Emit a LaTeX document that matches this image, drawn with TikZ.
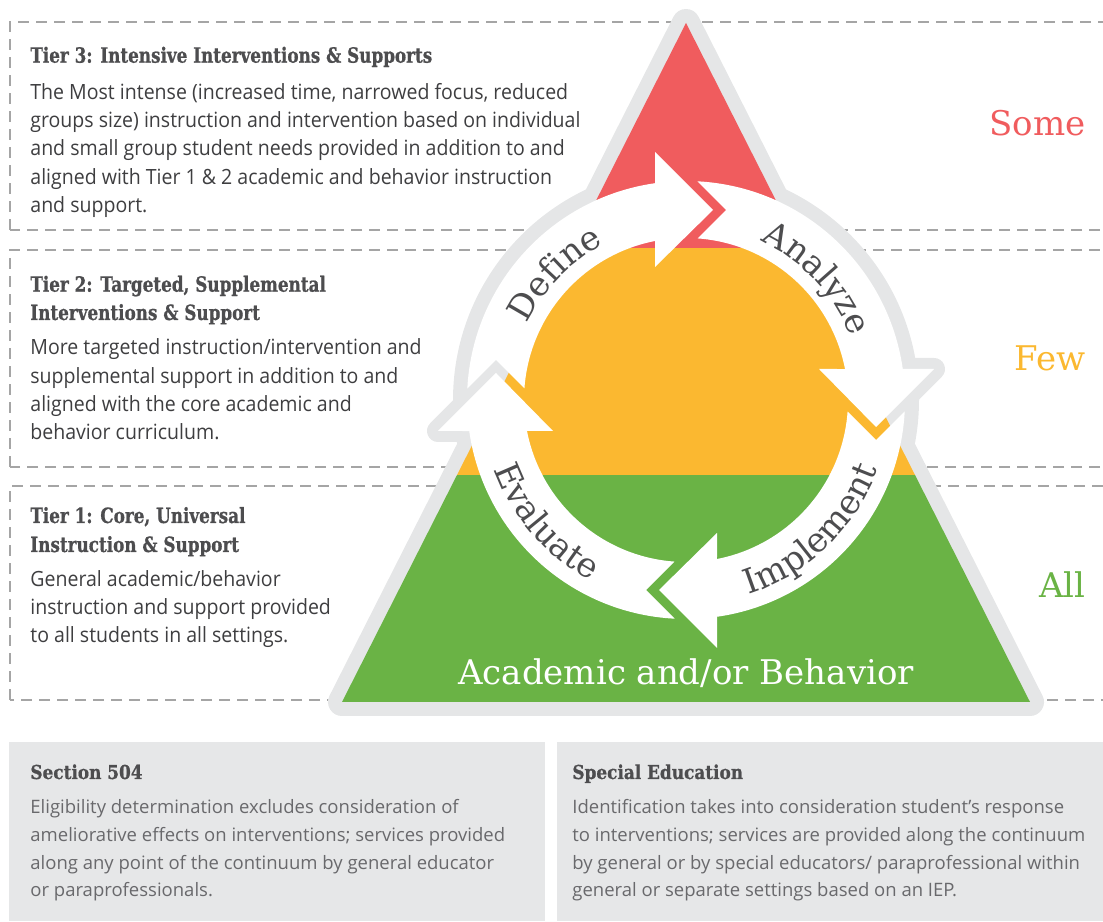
\documentclass[tikz,border=0pt]{standalone}
\usepackage{fontspec}
\setmainfont{Open Sans}
\newfontfamily\bodyfont[FakeStretch=0.93]{Open Sans}
\newfontfamily\smallbody{Open Sans}
\newfontfamily\slab{DejaVu Serif}
\newfontfamily\slabtitle[FakeStretch=0.8, FakeBold=0.8]{DejaVu Serif}
\newfontfamily\slabsmall[FakeStretch=0.88, FakeBold=0.8]{DejaVu Serif}
\usetikzlibrary{decorations.text}
\definecolor{tred}{RGB}{240,92,94}
\definecolor{torange}{RGB}{251,184,48}
\definecolor{tgreen}{RGB}{106,179,69}
\definecolor{edgegrey}{RGB}{229,230,231}
\definecolor{boxgrey}{RGB}{230,231,232}
\definecolor{titlec}{RGB}{77,77,79}
\definecolor{bodyc}{RGB}{62,62,64}
\definecolor{lightc}{RGB}{105,105,108}
\definecolor{dashc}{RGB}{165,165,165}
\definecolor{labc}{RGB}{77,77,79}
\tikzset{
  dashbox/.style={draw=dashc, line width=0.6pt, dash pattern=on 5.5pt off 3.5pt},
  ttl/.style={anchor=base west, inner sep=0pt, text=titlec, font=\slabtitle\bfseries\fontsize{10.5}{12}\selectfont},
  bod/.style={anchor=base west, inner sep=0pt, text=bodyc, font=\bodyfont\fontsize{10.5}{12}\selectfont},
  bttl/.style={anchor=base west, inner sep=0pt, text=titlec, font=\slabsmall\bfseries\fontsize{9.6}{12}\selectfont},
  bbod/.style={anchor=base west, inner sep=0pt, text=lightc, font=\smallbody\fontsize{9.25}{11}\selectfont},
  side/.style={anchor=base east, inner sep=0pt, font=\slab\fontsize{17}{20}\selectfont},
  greyedge/.style={fill=edgegrey, draw=edgegrey, line join=round},
  lab/.style={decorate, decoration={text along path, text align=center, text={|\slab\fontsize{17}{20}\selectfont\color{labc}|#1}}}
}
\begin{document}
\begin{tikzpicture}[x=0.5pt, y=0.5pt]
\useasboundingbox (0,0) rectangle (1103,921);
% dashed tier boxes
\draw[dashbox] (10,691) rectangle (1130,899);
\draw[dashbox] (10,454) rectangle (1130,671);
\draw[dashbox] (10,221) rectangle (1130,435);
% grey outline of the pyramid, ring and heads
\filldraw[greyedge, line width=14pt] (342,219) -- (686,898) -- (1030,219) -- cycle;
\filldraw[greyedge, line width=14pt] (686,521) circle[radius=219];
\foreach \r in {0,-90,-180,-270} {
  \begin{scope}[shift={(686,521)}, rotate=\r]
    \filldraw[greyedge, line width=11pt] (-31,248) -- (27,190) -- (-31,133) -- cycle;
  \end{scope}
}
% coloured bands
\begin{scope}
  \clip (342,219) -- (686,898) -- (1030,219) -- cycle;
  \fill[tred] (300,673) rectangle (1100,910);
  \fill[torange] (300,446) rectangle (1100,673);
  \fill[tgreen] (300,200) rectangle (1100,446);
\end{scope}
% cycle arrows
\foreach \r in {0,-90,-180,-270} {
  \begin{scope}[shift={(686,521)}, rotate=\r]
    \fill[white] (177.04:219) arc[start angle=177.04, end angle=98.14, radius=219]
      -- (-31,248) -- (27,190) -- (-31,133) -- (101.03:162)
      arc[start angle=101.03, end angle=175.9, radius=162] -- (-190,40) -- cycle;
  \end{scope}
}
\begin{scope}[shift={(686,521)}]
  \path[lab=Define] (176:176) arc[start angle=176, end angle=96, radius=176];
  \path[lab=Analyze] (83:176) arc[start angle=83, end angle=3, radius=176];
  \path[lab=Implement] (-86:204) arc[start angle=-86, end angle=-6, radius=204];
  \path[lab=Evaluate] (181:204) arc[start angle=181, end angle=261, radius=204];
\end{scope}
\node[anchor=base, inner sep=0pt, text=white, font=\slab\fontsize{17}{20}\selectfont] (base) at (686,236) {Academic and/or Behavior};
% side labels
\node[side, text=tred] (some) at (1086,785) {Some};
\node[side, text=torange] (few) at (1086,550) {Few};
\node[side, text=tgreen] (all) at (1086,323) {All};
% tier 3
\node[ttl] (t3t) at (30,858.3) {Tier 3: Intensive Interventions \& Supports};
\node[bod] (t3a) at (30,821.7) {The Most intense (increased time, narrowed focus, reduced};
\node[bod] (t3b) at (30,793.3) {groups size) instruction and intervention based on individual};
\node[bod] (t3c) at (30,765) {and small group student needs provided in addition to and};
\node[bod] (t3d) at (30,736.6) {aligned with Tier 1 \& 2 academic and behavior instruction};
\node[bod] (t3e) at (30,708.2) {and support.};
% tier 2
\node[ttl] (t2t) at (30,629.3) {Tier 2: Targeted, Supplemental};
\node[ttl] (t2u) at (30,601) {Interventions \& Support};
\node[bod] (t2a) at (30,566) {More targeted instruction/intervention and};
\node[bod] (t2b) at (30,537.7) {supplemental support in addition to and};
\node[bod] (t2c) at (30,509.3) {aligned with the core academic and};
\node[bod] (t2d) at (30,481) {behavior curriculum.};
% tier 1
\node[ttl] (t1t) at (30,398) {Tier 1: Core, Universal};
\node[ttl] (t1u) at (30,369) {Instruction \& Support};
\node[bod] (t1a) at (30,334) {General academic/behavior};
\node[bod] (t1b) at (30,306) {instruction and support provided};
\node[bod] (t1c) at (30,278) {to all students in all settings.};
% bottom boxes
\fill[boxgrey] (9,0) rectangle (545,178.5);
\fill[boxgrey] (557,0) rectangle (1103,178.5);
\node[bttl] (s5t) at (30,142) {Section 504};
\node[bbod] (s5a) at (30,107) {Eligibility determination excludes consideration of};
\node[bbod] (s5b) at (30,79.3) {ameliorative effects on interventions; services provided};
\node[bbod] (s5c) at (30,51.7) {along any point of the continuum by general educator};
\node[bbod] (s5d) at (30,24.3) {or paraprofessionals.};
\node[bttl] (set) at (572,142) {Special Education};
\node[bbod] (sea) at (572,107) {Identification takes into consideration student’s response};
\node[bbod] (seb) at (572,79.3) {to interventions; services are provided along the continuum};
\node[bbod] (sec) at (572,51.7) {by general or by special educators/ paraprofessional within};
\node[bbod] (sed) at (572,24.3) {general or separate settings based on an IEP.};
\end{tikzpicture}
\end{document}
